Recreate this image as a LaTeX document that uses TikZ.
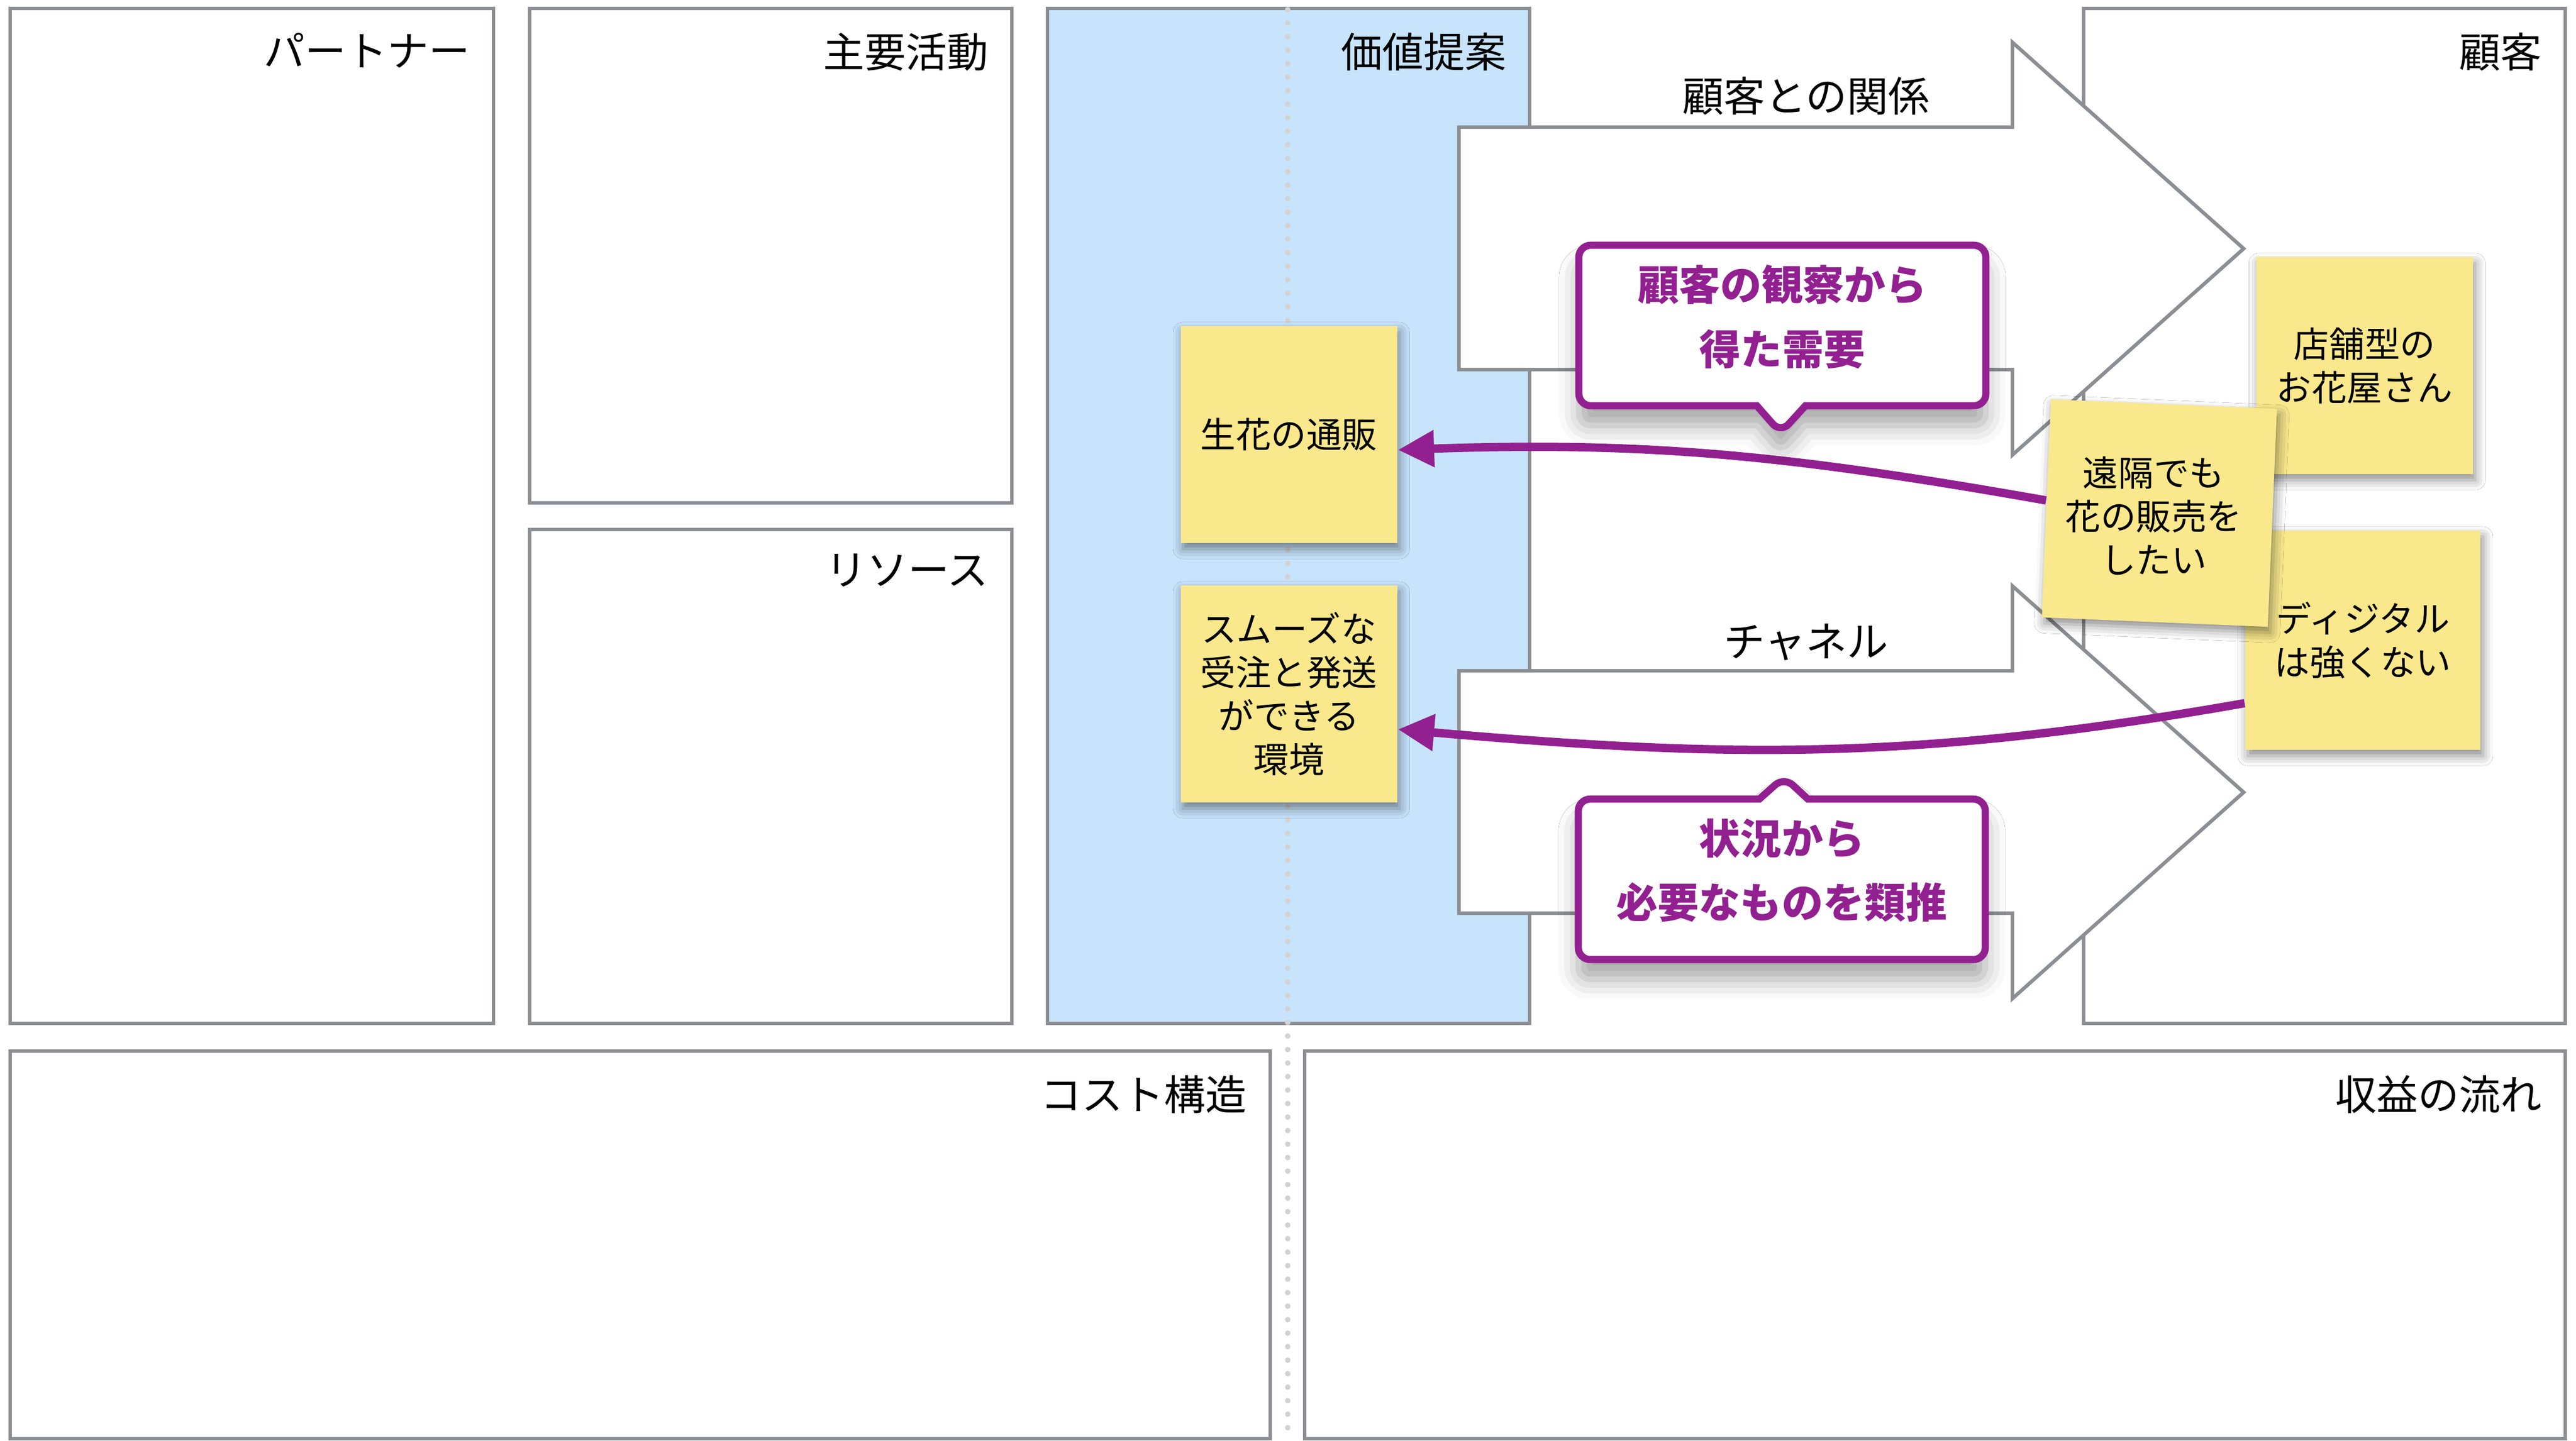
\documentclass[tikz,border=0pt]{standalone}
\usepackage{fontspec}
\setmainfont{Noto Sans CJK JP}
\usetikzlibrary{arrows.meta}
\usetikzlibrary{shapes.callouts}
\usetikzlibrary{shadows.blur}

\definecolor{framegray}{RGB}{139,142,146}
\definecolor{vpblue}{RGB}{199,228,252}
\definecolor{noteyellow}{RGB}{249,232,140}
\definecolor{hintpurple}{RGB}{146,32,144}
\definecolor{dotgray}{RGB}{210,210,210}

\tikzset{
  block/.style={draw=framegray, line width=0.9pt, fill=white},
  title/.style={anchor=north east, inner sep=0pt, xshift=-0.19cm, yshift=-0.2cm,
    font=\fontsize{10.4pt}{12pt}\selectfont},
  flow/.style={draw=framegray, line width=0.9pt, fill=white},
  flowtitle/.style={inner sep=0pt, font=\fontsize{10.4pt}{12pt}\selectfont},
  sticky/.style={fill=noteyellow, minimum width=1.915cm, minimum height=1.92cm,
    inner sep=0pt, align=center, font=\fontsize{8.9pt}{10.95pt}\selectfont,
    blur shadow={shadow xshift=0.6pt, shadow yshift=-1.5pt, shadow blur radius=2.5pt, shadow opacity=45}},
  stickytext/.style={inner sep=0pt, align=center, font=\fontsize{8.9pt}{10.95pt}\selectfont},
  hint/.style={rectangle callout, draw=hintpurple, line width=1.8pt, fill=white,
    rounded corners=3pt, text=hintpurple, align=center, text depth=5.5pt,
    font=\fontsize{10.4pt}{16.2pt}\selectfont\bfseries,
    minimum width=3.6cm, minimum height=1.42cm, callout pointer width=0.43cm,
    blur shadow={shadow xshift=0pt, shadow yshift=-5pt, shadow blur radius=5pt, shadow opacity=35}},
  link/.style={draw=hintpurple, line width=2.1pt, -{Triangle[length=3.2mm,width=3.1mm]}}
}

\begin{document}
\begin{tikzpicture}
\useasboundingbox (0,0) rectangle (22.785,12.745);

% キャンバスの枠
\draw[block] (0.09,3.69) rectangle (4.365,12.67) node[title] (partnertitle) {パートナー};
\draw[block] (4.685,8.295) rectangle (8.95,12.67) node[title] (activitytitle) {主要活動};
\draw[block] (4.685,3.69) rectangle (8.95,8.06) node[title] (resourcetitle) {リソース};
\draw[block, fill=vpblue] (9.265,3.69) rectangle (13.53,12.67) node[title] (valuetitle) {価値提案};
\draw[block] (18.43,3.69) rectangle (22.69,12.67) node[title] (customertitle) {顧客};
\draw[block] (0.09,0.015) rectangle (11.235,3.445) node[title] (costtitle) {コスト構造};
\draw[block] (11.54,0.015) rectangle (22.69,3.445) node[title] (revenuetitle) {収益の流れ};

% 中央の点線
\draw[dotgray, line width=1.4pt, line cap=round, dash pattern=on 0pt off 3.4pt] (11.39,12.66) -- (11.39,0);

% 顧客との関係・チャネルの矢印
\draw[flow] (12.905,11.62) -- (17.80,11.62) -- (17.80,12.37) -- (19.845,10.545) -- (17.80,8.72) -- (17.80,9.475) -- (12.905,9.475) -- cycle;
\node[flowtitle] (relationtitle) at (15.975,11.895) {顧客との関係};
\draw[flow] (12.905,6.81) -- (17.80,6.81) -- (17.80,7.56) -- (19.845,5.735) -- (17.80,3.91) -- (17.80,4.665) -- (12.905,4.665) -- cycle;
\node[flowtitle] (channeltitle) at (15.975,7.065) {チャネル};

% 付箋
\node[sticky] (mail) at (11.40,8.90) {生花の通販};
\node[sticky] (order) at (11.40,6.605) {スムーズな\\受注と発送\\ができる\\環境};
\node[sticky] (shop) at (20.915,9.51) {店舗型の\\お花屋さん};
\node[sticky, minimum width=2.08cm, minimum height=1.94cm] (digital) at (20.90,7.08) {ディジタル\\は強くない};
\node[sticky, rotate=-2.4, minimum width=2.0cm, minimum height=1.93cm] (remote) at (19.10,8.205) {};
\node[stickytext] (remotetext) at (19.05,8.18) {遠隔でも\\花の販売を\\したい};

% 紫の矢印
\draw[link] (remote.176) to[out=170,in=2] (mail.-8);
\draw[link] (digital.208) to[out=190,in=-5] (order.-18);

% 吹き出し
\coordinate (needtip) at (15.75,8.915);
\node[hint, callout absolute pointer={(needtip)}] (need) at (15.765,9.865) {顧客の観察から\\得た需要};
\coordinate (guesstip) at (15.78,5.87);
\node[hint, callout absolute pointer={(guesstip)}] (guess) at (15.76,4.965) {状況から\\必要なものを類推};
\end{tikzpicture}
\end{document}
